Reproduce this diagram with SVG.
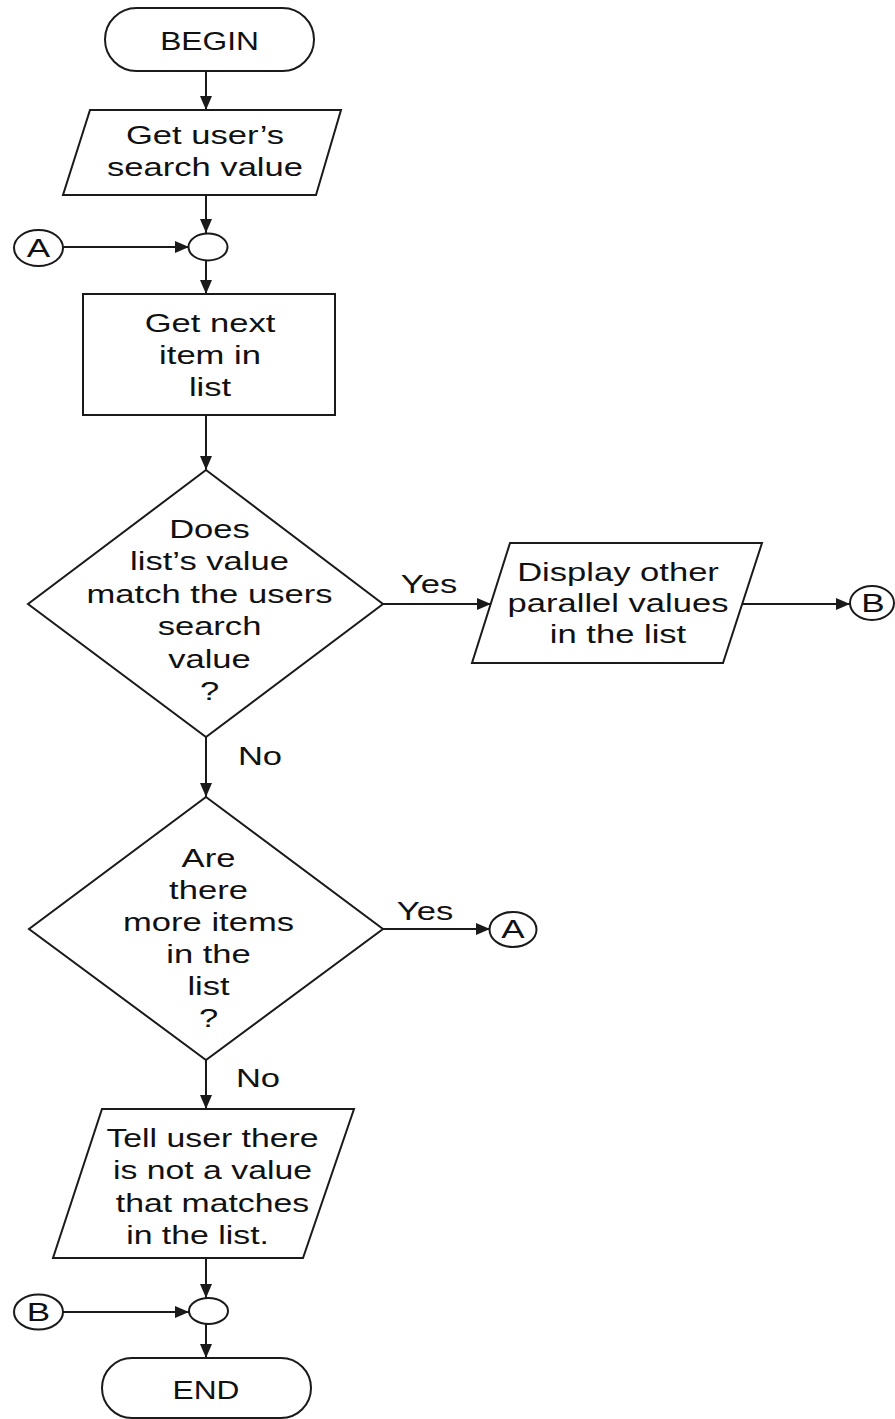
<svg xmlns="http://www.w3.org/2000/svg" width="895" height="1419" viewBox="0 0 895 1419">
<style>
.s{fill:#fff;stroke:#1a1a1a;stroke-width:2}
.c{fill:none;stroke:#1a1a1a;stroke-width:2}
.t{font-family:"Liberation Sans",Arial,sans-serif;font-size:26px;fill:#111;text-anchor:middle}
</style>
<defs>
<marker id="ah" markerUnits="userSpaceOnUse" markerWidth="14" markerHeight="12" refX="14" refY="6" orient="auto"><path d="M0,0 L14,6 L0,12 z" fill="#1a1a1a"/></marker>
</defs>
<rect width="895" height="1419" fill="#fff"/>
<g id="connectors" class="c" marker-end="url(#ah)">
<path d="M206,71 V110"/>
<path d="M206,195 V233"/>
<path d="M206,260 V294"/>
<path d="M206,415 V470"/>
<path d="M206,737 V797"/>
<path d="M206,1060 V1109"/>
<path d="M206,1258 V1298"/>
<path d="M206,1324 V1358"/>
<path d="M63,247 H189"/>
<path d="M383,604 H491"/>
<path d="M743,604 H850"/>
<path d="M383,929 H490"/>
<path d="M63,1312 H189"/>
</g>
<g id="edge-labels">
<text class="t" font-size="25" transform="translate(429,593) scale(1.33,1)">Yes</text>
<text class="t" font-size="25" transform="translate(425,920) scale(1.33,1)">Yes</text>
<text class="t" font-size="25" transform="translate(260,765) scale(1.33,1)">No</text>
<text class="t" font-size="25" transform="translate(258,1087) scale(1.33,1)">No</text>
</g>
<g id="begin">
<rect x="105" y="8" width="209" height="63" rx="31.5" class="s"/>
<text class="t" font-size="28" transform="translate(209.5,50) scale(1.22,1)">BEGIN</text>
</g>
<g id="get-search">
<polygon points="90,110 341,110 316,195 63,195" class="s"/>
<text class="t" transform="translate(205,0) scale(1.33,1)"><tspan x="0" y="144">Get user’s</tspan><tspan x="0" y="176">search value</tspan></text>
</g>
<g id="join-a">
<ellipse cx="208" cy="247" rx="19.5" ry="13.5" class="s"/>
</g>
<g id="conn-a-in">
<ellipse cx="38.5" cy="248" rx="24.5" ry="18" class="s"/>
<text class="t" font-size="23" transform="translate(38.5,256.5) scale(1.35,1)">A</text>
</g>
<g id="get-next">
<rect x="83" y="294" width="252" height="121" class="s"/>
<text class="t" transform="translate(210,0) scale(1.33,1)"><tspan x="0" y="332">Get next</tspan><tspan x="0" y="364">item in</tspan><tspan x="0" y="396">list</tspan></text>
</g>
<g id="match-decision">
<polygon points="206,470 383,604 206,737 28,604" class="s"/>
<text class="t" transform="translate(209.5,0) scale(1.33,1)"><tspan x="0" y="538">Does</tspan><tspan x="0" y="570.5">list’s value</tspan><tspan x="0" y="603">match the users</tspan><tspan x="0" y="635.5">search</tspan><tspan x="0" y="668">value</tspan><tspan x="0" y="700.5">?</tspan></text>
</g>
<g id="display">
<polygon points="510,543 762,543 723,663 472,663" class="s"/>
<text class="t" transform="translate(618,0) scale(1.33,1)"><tspan x="0" y="581">Display other</tspan><tspan x="0" y="612">parallel values</tspan><tspan x="0" y="643">in the list</tspan></text>
</g>
<g id="conn-b-out">
<ellipse cx="872" cy="603" rx="22" ry="17" class="s"/>
<text class="t" font-size="23" transform="translate(873,611.5) scale(1.35,1)">B</text>
</g>
<g id="more-decision">
<polygon points="206,797 383,929 206,1060 29,929" class="s"/>
<text class="t" transform="translate(208.5,0) scale(1.33,1)"><tspan x="0" y="867">Are</tspan><tspan x="0" y="899">there</tspan><tspan x="0" y="931">more items</tspan><tspan x="0" y="963">in the</tspan><tspan x="0" y="995">list</tspan><tspan x="0" y="1027">?</tspan></text>
</g>
<g id="conn-a-out">
<ellipse cx="513" cy="929.5" rx="23.5" ry="17.5" class="s"/>
<text class="t" font-size="23" transform="translate(513,938) scale(1.35,1)">A</text>
</g>
<g id="tell-user">
<polygon points="102,1109 354,1109 303,1258 53,1258" class="s"/>
<text class="t" font-size="25" transform="translate(212.5,0) scale(1.3,1)"><tspan x="0" y="1147">Tell user there</tspan><tspan x="0" y="1179.5">is not a value</tspan><tspan x="0" y="1212">that matches</tspan><tspan x="-11.5" y="1244">in the list.</tspan></text>
</g>
<g id="join-b">
<ellipse cx="208.5" cy="1311" rx="19.5" ry="13" class="s"/>
</g>
<g id="conn-b-in">
<ellipse cx="38.5" cy="1312" rx="24.5" ry="17.5" class="s"/>
<text class="t" font-size="23" transform="translate(38.5,1320.5) scale(1.35,1)">B</text>
</g>
<g id="end">
<rect x="102" y="1358" width="209" height="60" rx="30" class="s"/>
<text class="t" font-size="28" transform="translate(206,1399) scale(1.22,1)">END</text>
</g>
</svg>
